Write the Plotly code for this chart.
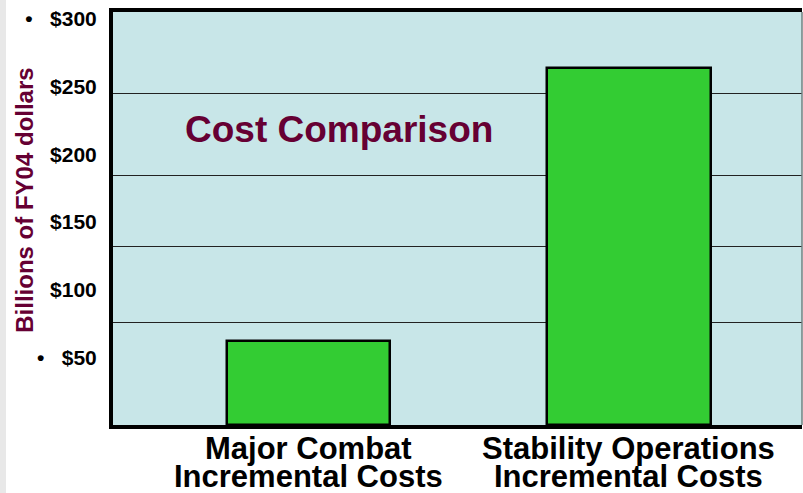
import plotly.graph_objects as go

# Data
categories = ["Major Combat", "Stability Operations"]
line1 = ["Major Combat", "Stability Operations"]
line2 = ["Incremental Costs", "Incremental Costs"]
values = [62, 264]
tick_vals = [50, 100, 150, 200, 250, 300]
tick_text = ["•\u00a0\u00a0\u00a0$50", "$100", "$150", "$200", "$250", "•\u00a0\u00a0\u00a0$300"]
grid_vals = [76, 132, 184, 245]

x_pos = list(range(len(categories)))
maroon = "#660033"
FONT = "Liberation Sans, Arial"

fig = go.Figure()
fig.add_trace(go.Bar(
    x=x_pos, y=values, width=0.51,
    marker=dict(color="#33cc33", line=dict(color="black", width=2.5)),
    hoverinfo="skip", showlegend=False,
))
# invisible trace for gridline axis
fig.add_trace(go.Scatter(x=[x_pos[0]], y=[0], yaxis="y2", mode="markers",
                         marker=dict(opacity=0), showlegend=False, hoverinfo="skip"))

annotations = []
for xp, a, b in zip(x_pos, line1, line2):
    annotations.append(dict(x=xp, y=0, xref="x", yref="paper", text=a, showarrow=False,
                            yanchor="middle", yshift=-23,
                            font=dict(family=FONT, size=31, color="black", weight="bold")))
    annotations.append(dict(x=xp, y=0, xref="x", yref="paper", text=b, showarrow=False,
                            yanchor="middle", yshift=-51,
                            font=dict(family=FONT, size=31, color="black", weight="bold")))
annotations.append(dict(x=0.328, y=0.715, xref="paper", yref="paper", text="Cost Comparison",
                        showarrow=False, xanchor="center", yanchor="middle",
                        font=dict(family=FONT, size=37, color=maroon, weight="bold")))
annotations.append(dict(x=-0.128, y=0.545, xref="paper", yref="paper", text="Billions of FY04 dollars",
                        showarrow=False, textangle=-90, xanchor="center", yanchor="middle",
                        font=dict(family=FONT, size=24, color=maroon, weight="bold")))

yr = [0, 305]
fig.update_layout(
    width=803, height=493,
    margin=dict(l=113, r=1, t=12, b=68),
    paper_bgcolor="white", plot_bgcolor="#c8e6e8",
    bargap=0,
    xaxis=dict(range=[-0.61, 1.54], showticklabels=False, ticks="", showgrid=False,
               zeroline=False, showline=True, linecolor="black", linewidth=4, mirror=True),
    yaxis=dict(range=yr, tickvals=tick_vals, ticktext=tick_text, showgrid=False, zeroline=False,
               showline=True, linecolor="black", linewidth=4, ticks="", ticklabelstandoff=8,
               tickfont=dict(family=FONT, size=21, color="black", weight="bold")),
    yaxis2=dict(range=yr, overlaying="y", tickvals=grid_vals, showticklabels=False,
                showgrid=True, gridcolor="#222222", gridwidth=1, zeroline=False, ticks=""),
    annotations=annotations,
    shapes=[
        dict(type="rect", xref="paper", yref="paper", x0=-113/689, x1=-107/689, y0=-68/413, y1=1+12/413,
             fillcolor="#e8e8e8", line=dict(width=0), layer="below"),
        dict(type="line", xref="paper", yref="paper", x0=1, x1=1, y0=0, y1=1,
             line=dict(color="#708080", width=1.5)),
    ],
)
fig.write_html("out.html", config={"displayModeBar": False},
               post_script="document.body.style.margin='0px';")
